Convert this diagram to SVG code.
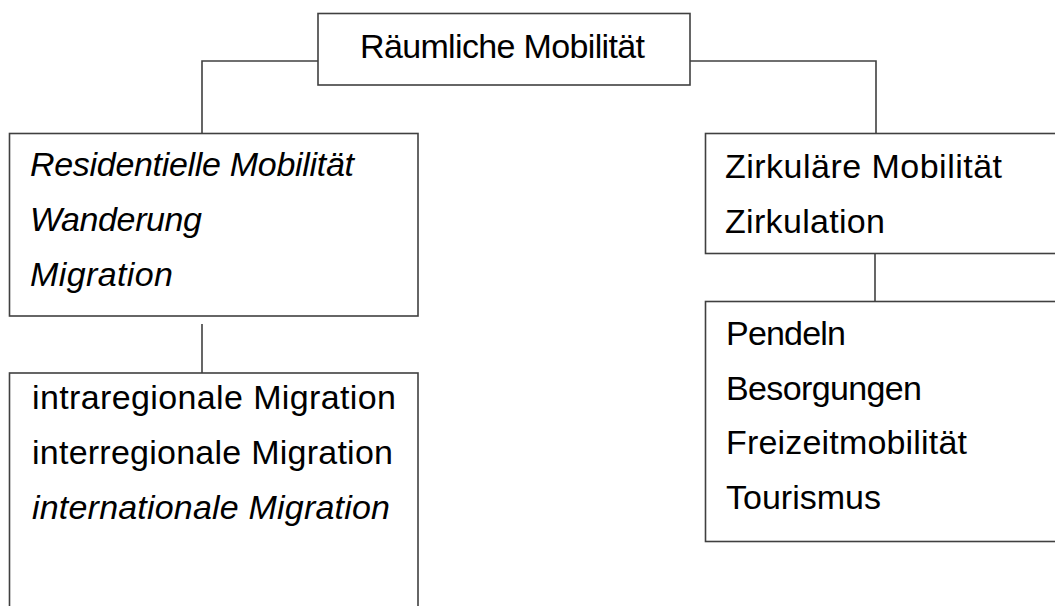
<svg xmlns="http://www.w3.org/2000/svg" width="1055" height="606" viewBox="0 0 1055 606">
<style>
.box{fill:#fff;stroke:#404040;stroke-width:1.6}
.con{fill:none;stroke:#404040;stroke-width:1.6}
text{font-family:"Liberation Sans",Arial,sans-serif;font-size:34px;fill:#000}
.it{font-style:italic}
</style>
<rect width="1055" height="606" fill="#fff"/>
<g id="connectors">
<polyline class="con" points="318,61 202,61 202,133"/>
<polyline class="con" points="690,61 876,61 876,133"/>
<line class="con" x1="202" y1="324" x2="202" y2="373"/>
<line class="con" x1="875" y1="253" x2="875" y2="301"/>
</g>
<g id="n-top">
<rect class="box" x="318" y="13.5" width="372" height="71.5"/>
<text x="360" y="58" textLength="285">Räumliche Mobilität</text>
</g>
<g id="n-residentiell">
<rect class="box" x="9.5" y="133.5" width="408.5" height="182.5"/>
<text class="it" x="30" y="176" textLength="324">Residentielle Mobilität</text>
<text class="it" x="30" y="231" textLength="172">Wanderung</text>
<text class="it" x="30" y="286" textLength="143">Migration</text>
</g>
<g id="n-migration">
<rect class="box" x="9.5" y="373" width="408.5" height="260"/>
<text x="32" y="409" textLength="364">intraregionale Migration</text>
<text x="32" y="464" textLength="361">interregionale Migration</text>
<text class="it" x="32" y="519" textLength="358">internationale Migration</text>
</g>
<g id="n-zirkulaer">
<rect class="box" x="705.5" y="133.5" width="360" height="120"/>
<text x="725" y="178" textLength="277">Zirkuläre Mobilität</text>
<text x="725" y="233" textLength="160">Zirkulation</text>
</g>
<g id="n-zirkulation">
<rect class="box" x="705.5" y="301.5" width="360" height="240"/>
<text x="726" y="345" textLength="120">Pendeln</text>
<text x="726" y="400" textLength="196">Besorgungen</text>
<text x="726" y="454" textLength="241">Freizeitmobilität</text>
<text x="726" y="509" textLength="155">Tourismus</text>
</g>
</svg>
